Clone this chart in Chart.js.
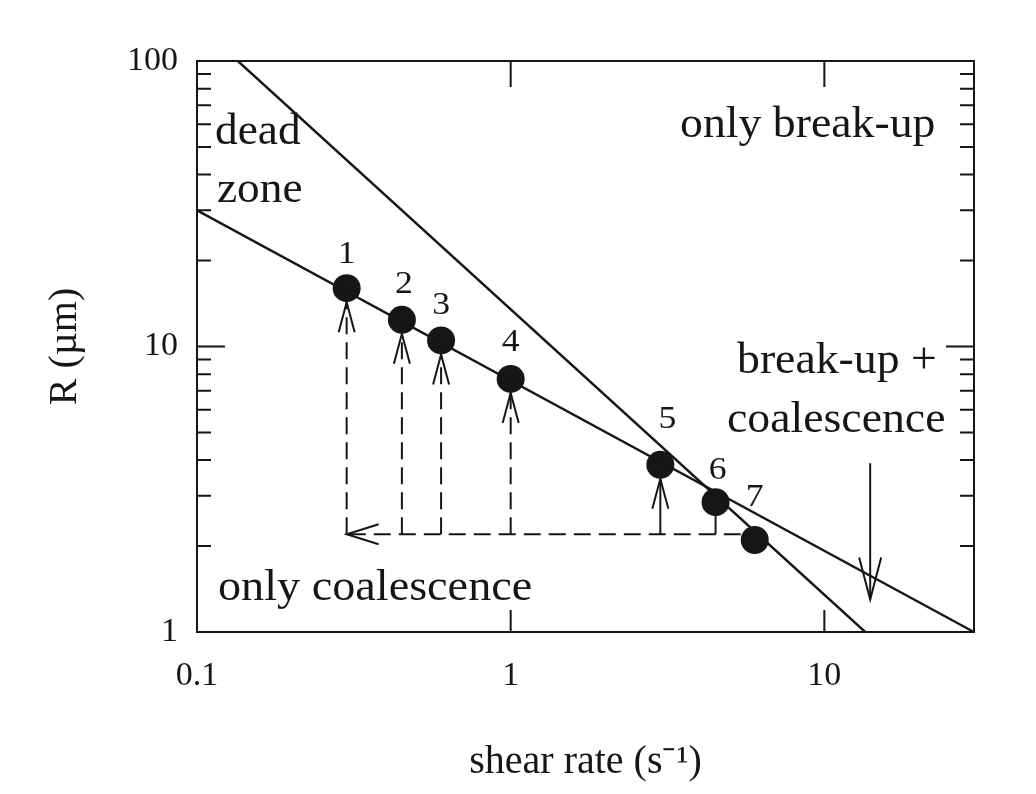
<!DOCTYPE html>
<html>
<head>
<meta charset="utf-8">
<script src="https://cdn.jsdelivr.net/npm/chart.js@4.4.0/dist/chart.umd.min.js"></script>
<style>
  html, body { margin: 0; padding: 0; background: #fff; }
</style>
</head>
<body>
<canvas id="regimeChart" width="1036" height="794"></canvas>
<script>
// measured droplets (shear rate s^-1, radius um)
const shearRates = [0.3, 0.45, 0.6, 1.0, 3.0, 4.5, 6.0];
const radii = [16, 12.4, 10.5, 7.7, 3.85, 2.85, 2.1];
const pointLabels = ['1', '2', '3', '4', '5', '6', '7'];

// the two boundary lines
const coalescenceLineX = [0.1, 30];
const coalescenceLineY = [30, 1];
const breakupLineX = [0.135, 13.5];
const breakupLineY = [100, 1];

// steps: shear rate lowered from point 7 back to point 1
const stepBaseR = 2.2;
const dashedSteps = [0, 1, 2, 3];
const solidSteps = [4];
const plainSteps = [5];
const downArrowX = 14;
const downArrowY = [3.9, 1.3];

const xTicks = [0.1, 1, 10];
const yTicks = [1, 10, 100];
const yMinorTicks = [2, 3, 4, 5, 6, 7, 8, 9, 20, 30, 40, 50, 60, 70, 80, 90];

const SERIF = '"Liberation Serif", "Times New Roman", serif';
const INK = '#161616';

const toPoints = (xs, ys) => xs.map((x, i) => ({ x, y: ys[i] }));

function arrowHead(ctx, tx, ty, dx, dy, len, half) {
  // open V arrowhead with tip at (tx, ty) pointing along (dx, dy)
  const bx = tx - dx * len, by = ty - dy * len;
  const nx = -dy, ny = dx;
  ctx.beginPath();
  ctx.moveTo(bx + nx * half, by + ny * half);
  ctx.lineTo(tx, ty);
  ctx.lineTo(bx - nx * half, by - ny * half);
  ctx.stroke();
}

function stretchText(ctx, text, x, y, size, sx) {
  ctx.save();
  ctx.font = size + 'px ' + SERIF;
  ctx.translate(x, y);
  ctx.scale(sx, 1);
  ctx.fillText(text, 0, 0);
  ctx.restore();
}

const overlay = {
  id: 'overlay',
  beforeDatasetsDraw(chart) {
    const { ctx, scales: { x, y } } = chart;
    const r = 14;
    ctx.save();
    ctx.strokeStyle = INK;
    ctx.lineWidth = 2;
    const baseY = y.getPixelForValue(stepBaseR);
    const px = shearRates.map(v => x.getPixelForValue(v));
    const py = radii.map(v => y.getPixelForValue(v));

    // horizontal dashed return line
    ctx.setLineDash([17, 8]);
    ctx.beginPath();
    ctx.moveTo(px[6] - r, baseY);
    ctx.lineTo(px[0], baseY);
    ctx.stroke();

    dashedSteps.forEach(i => {
      ctx.beginPath();
      ctx.moveTo(px[i], baseY);
      ctx.lineTo(px[i], py[i] + r);
      ctx.stroke();
    });
    ctx.setLineDash([]);

    solidSteps.concat(plainSteps).forEach(i => {
      ctx.beginPath();
      ctx.moveTo(px[i], baseY);
      ctx.lineTo(px[i], py[i] + r);
      ctx.stroke();
    });

    dashedSteps.concat(solidSteps).forEach(i => {
      arrowHead(ctx, px[i], py[i] + r, 0, -1, 30, 8);
    });
    arrowHead(ctx, px[0], baseY, -1, 0, 32, 10);

    // break-up + coalescence arrow
    const ax = x.getPixelForValue(downArrowX);
    const ay0 = y.getPixelForValue(downArrowY[0]);
    const ay1 = y.getPixelForValue(downArrowY[1]);
    ctx.beginPath();
    ctx.moveTo(ax, ay0);
    ctx.lineTo(ax, ay1);
    ctx.stroke();
    arrowHead(ctx, ax, ay1, 0, 1, 42, 11);
    ctx.restore();
  },
  afterDatasetsDraw(chart) {
    const { ctx, chartArea: a, scales: { x, y } } = chart;
    ctx.save();
    ctx.strokeStyle = INK;
    ctx.fillStyle = INK;
    ctx.lineWidth = 2;
    ctx.strokeRect(a.left, a.top, a.right - a.left, a.bottom - a.top);

    // inward ticks
    ctx.beginPath();
    yMinorTicks.forEach(v => {
      const p = y.getPixelForValue(v);
      ctx.moveTo(a.left, p); ctx.lineTo(a.left + 14, p);
      ctx.moveTo(a.right, p); ctx.lineTo(a.right - 14, p);
    });
    yTicks.forEach(v => {
      const p = y.getPixelForValue(v);
      ctx.moveTo(a.left, p); ctx.lineTo(a.left + 28, p);
      ctx.moveTo(a.right, p); ctx.lineTo(a.right - 28, p);
    });
    xTicks.forEach(v => {
      const p = x.getPixelForValue(v);
      ctx.moveTo(p, a.bottom); ctx.lineTo(p, a.bottom - 22);
      ctx.moveTo(p, a.top); ctx.lineTo(p, a.top + 26);
    });
    ctx.stroke();

    // point numbers
    const labelShift = [[0, -33], [2, -35], [0, -35], [0, -36], [7, -45], [2, -31], [0, -42]];
    ctx.textAlign = 'center';
    ctx.textBaseline = 'middle';
    pointLabels.forEach((t, i) => {
      const lx = x.getPixelForValue(shearRates[i]) + labelShift[i][0];
      const ly = y.getPixelForValue(radii[i]) + labelShift[i][1];
      stretchText(ctx, t, lx, ly, 31, 1.15);
    });

    // region annotations
    ctx.textAlign = 'left';
    ctx.textBaseline = 'alphabetic';
    stretchText(ctx, 'dead', 215, 144, 44, 1.03);
    stretchText(ctx, 'zone', 217, 202, 44, 1.03);
    stretchText(ctx, 'only break-up', 680, 137, 44, 1.04);
    stretchText(ctx, 'break-up +', 737, 373, 44, 1.04);
    stretchText(ctx, 'coalescence', 727, 432, 44, 1.04);
    stretchText(ctx, 'only coalescence', 218, 600, 44, 1.05);
    ctx.restore();
  }
};

new Chart(document.getElementById('regimeChart'), {
  type: 'scatter',
  data: {
    datasets: [
      {
        data: toPoints(coalescenceLineX, coalescenceLineY),
        showLine: true, borderColor: INK, borderWidth: 2.4, pointRadius: 0
      },
      {
        data: toPoints(breakupLineX, breakupLineY),
        showLine: true, borderColor: INK, borderWidth: 2.4, pointRadius: 0
      },
      {
        data: toPoints(shearRates, radii),
        showLine: false, pointRadius: 14, pointBackgroundColor: INK,
        pointBorderWidth: 0, pointHoverRadius: 14
      }
    ]
  },
  options: {
    responsive: false,
    animation: false,
    devicePixelRatio: 1,
    events: [],
    layout: { padding: { top: 61, right: 62, left: 0, bottom: 0 } },
    plugins: { legend: { display: false }, tooltip: { enabled: false } },
    scales: {
      x: {
        type: 'logarithmic',
        min: 0.1,
        max: 30,
        grid: { display: false, drawTicks: false },
        border: { display: false },
        afterBuildTicks: s => { s.ticks = xTicks.map(v => ({ value: v })); },
        afterFit: s => { s.height = 162; },
        ticks: {
          color: INK, padding: 24, maxRotation: 0, autoSkip: false,
          font: { family: SERIF, size: 34 },
          callback: v => String(v)
        },
        title: {
          display: true, text: 'shear rate (s\u207B\u00B9)', color: INK,
          font: { family: SERIF, size: 40 }, padding: { bottom: 8 }
        }
      },
      y: {
        type: 'logarithmic',
        min: 1,
        max: 100,
        grid: { display: false, drawTicks: false },
        border: { display: false },
        afterBuildTicks: s => { s.ticks = yTicks.map(v => ({ value: v })); },
        afterFit: s => { s.width = 197; },
        ticks: {
          color: INK, padding: 19, autoSkip: false,
          font: { family: SERIF, size: 34 },
          callback: v => String(v)
        },
        title: {
          display: true, text: 'R (\u00B5m)', color: INK,
          font: { family: SERIF, size: 40 }, padding: { top: 41 }
        }
      }
    }
  },
  plugins: [overlay]
});
</script>
</body>
</html>
